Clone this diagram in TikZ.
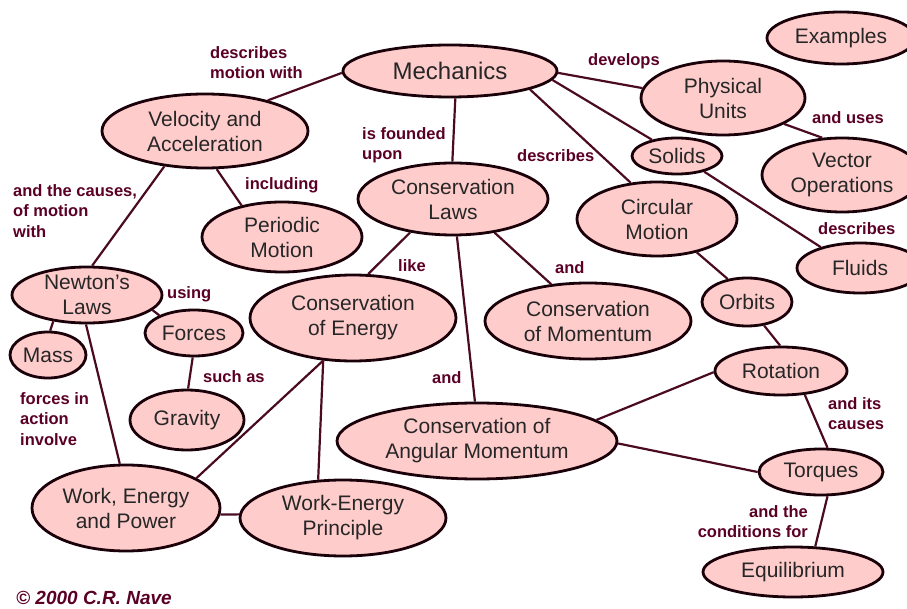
\documentclass[tikz,border=0pt]{standalone}
\usepackage{fontspec}
\setmainfont{Liberation Sans}
\usetikzlibrary{shapes.geometric}
\definecolor{bubble}{HTML}{FFCCCC}
\definecolor{rim}{HTML}{1A0008}
\definecolor{link}{HTML}{4A0A22}
\definecolor{verb}{HTML}{5A0024}
\definecolor{ink}{HTML}{262626}
\tikzset{
  ell/.style={ellipse, draw=rim, fill=bubble, line width=2.8pt,
    inner xsep=-4pt, inner ysep=-12pt, align=center, text=ink,
    font=\fontsize{21}{25}\selectfont},
  conn/.style={draw=link, line width=2.2pt},
  verbtext/.style={text=verb, inner sep=0pt, align=left,
    font=\fontsize{16.5}{20.5}\selectfont\bfseries},
}
\begin{document}
\begin{tikzpicture}[x=1pt, y=-1pt]
\useasboundingbox (0,0) rectangle (907,609);

% concept bubbles
\node[ell, minimum width=214, minimum height=52, font=\fontsize{24}{28}\selectfont] (mech) at (450,71) {Mechanics};
\node[ell, minimum width=206, minimum height=74] (vel) at (205,131) {Velocity and\\Acceleration};
\node[ell, minimum width=160, minimum height=70] (per) at (282,237) {Periodic\\Motion};
\node[ell, minimum width=190, minimum height=72] (claws) at (453,199) {Conservation\\Laws};
\node[ell, minimum width=148, minimum height=52] (ex) at (841,38) {Examples};
\node[ell, minimum width=164, minimum height=74] (pu) at (723,98) {Physical\\Units};
\node[ell, minimum width=90, minimum height=36] (sol) at (677,156) {Solids};
\node[ell, minimum width=160, minimum height=74] (vec) at (842,175) {Vector\\Operations};
\node[ell, minimum width=160, minimum height=74] (circ) at (657,219) {Circular\\Motion};
\node[ell, minimum width=126, minimum height=50] (flu) at (860,268) {Fluids};
\node[ell, minimum width=90, minimum height=48] (orb) at (747,302) {Orbits};
\node[ell, minimum width=206, minimum height=76] (cmom) at (588,321) {Conservation\\of Momentum};
\node[ell, minimum width=132, minimum height=48] (rot) at (781,371) {Rotation};
\node[ell, minimum width=280, minimum height=76] (ang) at (477,441) {Conservation of\\Angular Momentum};
\node[ell, minimum width=124, minimum height=46] (tor) at (821,472) {Torques};
\node[ell, minimum width=180, minimum height=50] (equ) at (793,572) {Equilibrium};
\node[ell, minimum width=150, minimum height=56] (newt) at (87,295) {Newton's\\Laws};
\node[ell, minimum width=76, minimum height=46] (mass) at (48,355) {Mass};
\node[ell, minimum width=98, minimum height=46] (force) at (194,333) {Forces};
\node[ell, minimum width=206, minimum height=86] (cen) at (353,318) {Conservation\\of Energy};
\node[ell, minimum width=114, minimum height=60] (grav) at (187,420) {Gravity};
\node[ell, minimum width=188, minimum height=86] (wep) at (126,508) {Work, Energy\\and Power};
\node[ell, minimum width=206, minimum height=76] (wepr) at (343,518) {Work-Energy\\Principle};

% links between concepts
\path[conn] (mech.181) -- (vel.26);
\path[conn] (mech.281) -- (claws.91);
\path[conn] (mech.359) -- (pu.173);
\path[conn] (mech.355) -- (sol.147);
\path[conn] (mech.347) -- (circ.126);
\path[conn] (pu.337) -- (vec.118);
\path[conn] (sol.330) -- (flu.152);
\path[conn] (circ.320) -- (orb.130);
\path[conn] (orb.306) -- (rot.92);
\path[conn] (vel.287) -- (per.142);
\path[conn] (vel.221) -- (newt.80);
\path[conn] (claws.218) -- (cen.71);
\path[conn] (claws.321) -- (cmom.135);
\path[conn] (claws.276) -- (ang.93);
\path[conn] (newt.218) -- (mass.85);
\path[conn] (newt.347) -- (force.153);
\path[conn] (force.267) -- (grav.88);
\path[conn] (newt.268) -- (wep.98);
\path[conn] (cen.235) -- (wep.23);
\path[conn] (cen.235) -- (wepr.123);
\path[conn] (wep.356) -- (wepr.178);
\path[conn] (ang.10) -- (rot.181);
\path[conn] (ang.359) -- (tor.180);
\path[conn] (rot.315) -- (tor.75);
\path[conn] (tor.285) -- (equ.49);

% linking phrases
\node[verbtext, anchor=north west] (t1) at (210,46) {describes\\motion with};
\node[verbtext, anchor=north west] (t2) at (362,127) {is founded\\upon};
\node[verbtext, anchor=north west] (t3) at (588,53) {develops};
\node[verbtext, anchor=north west] (t4) at (517,149) {describes};
\node[verbtext, anchor=north west] (t5) at (812,111) {and uses};
\node[verbtext, anchor=north west] (t6) at (818,222) {describes};
\node[verbtext, anchor=north west] (t7) at (245,177) {including};
\node[verbtext, anchor=north west] (t8) at (13,184) {and the causes,\\of motion\\with};
\node[verbtext, anchor=north west] (t9) at (398,259) {like};
\node[verbtext, anchor=north west] (t10) at (555,261) {and};
\node[verbtext, anchor=north west] (t11) at (432,371) {and};
\node[verbtext, anchor=north west] (t12) at (167,286) {using};
\node[verbtext, anchor=north west] (t13) at (203,370) {such as};
\node[verbtext, anchor=north west] (t14) at (20,392) {forces in\\action\\involve};
\node[verbtext, anchor=north west] (t15) at (828,397) {and its\\causes};
\node[verbtext, anchor=north east, align=right] (t16) at (808,505) {and the\\conditions for};

% credit line
\node[text=verb, inner sep=0pt, anchor=base west,
  font=\fontsize{19}{22}\selectfont\bfseries\itshape] (cr) at (16,604) {© 2000 C.R. Nave};
\end{tikzpicture}
\end{document}
